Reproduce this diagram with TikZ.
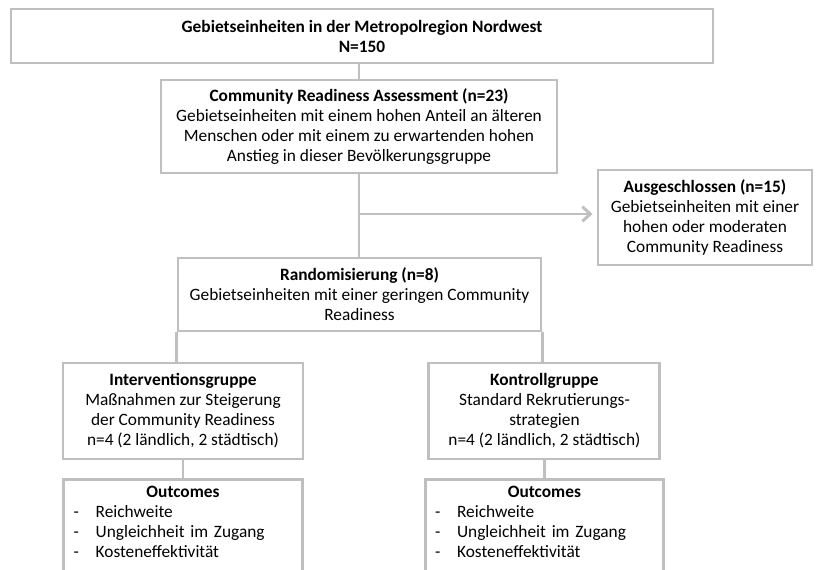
\documentclass[tikz,border=0pt]{standalone}
\usepackage{fontspec}
\setmainfont{Carlito}
\usepackage{tikz}
\usetikzlibrary{arrows.meta,positioning,calc}
\definecolor{rahmengrau}{RGB}{191,191,191}
\newcommand{\punkt}[1]{\makebox[\linewidth][l]{\makebox[20pt][l]{\hspace*{3.5pt}-}#1}}

\begin{document}
\begin{tikzpicture}[x=0.75pt,y=-0.75pt,font=\fontsize{13}{15}\selectfont,
  >={Straight Barb[length=6pt,width=11pt]},
  box/.style={draw=rahmengrau,line width=2.2pt,fill=white,align=center,inner sep=4pt},
  link/.style={draw=rahmengrau,line width=2.2pt}]
  \useasboundingbox (0,0) rectangle (818,570);
  \clip (0,0) rectangle (818,570);
  \node[box,minimum width=526.5pt,minimum height=40.5pt,font=\fontsize{13}{15}\selectfont\bfseries] (gesamt) at (362,36) {Gebietseinheiten in der Metropolregion Nordwest\\ N=150};
  \node[box,minimum width=297pt,minimum height=69.75pt] (cra) at (359,126.5) {\textbf{Community Readiness Assessment (n=23)}\\ Gebietseinheiten mit einem hohen Anteil an älteren\\ Menschen oder mit einem zu erwartenden hohen\\ Anstieg in dieser Bevölkerungsgruppe};
  \node[box,minimum width=160.5pt,minimum height=71.25pt] (aus) at (705,217.5) {\textbf{Ausgeschlossen (n=15)}\\ Gebietseinheiten mit einer\\ hohen oder moderaten\\ Community Readiness};
  \node[box,minimum width=272.25pt,minimum height=54.75pt] (rand) at (359.5,294.5) {\textbf{Randomisierung (n=8)}\\ Gebietseinheiten mit einer geringen Community\\ Readiness};
  \node[box,minimum width=180pt,minimum height=72pt] (interv) at (183,411) {\textbf{Interventionsgruppe}\\ Maßnahmen zur Steigerung\\ der Community Readiness\\ n=4 (2 ländlich, 2 städtisch)};
  \node[box,minimum width=173.25pt,minimum height=72pt,right=92.25pt of interv] (kontr) {\textbf{Kontrollgruppe}\\ Standard Rekrutierungs-\\ strategien\\ n=4 (2 ländlich, 2 städtisch)};
  \node[box,text width=171pt,align=left,inner ysep=5pt,below=13.5pt of interv] (outi) {\makebox[\linewidth]{\textbf{Outcomes}}\\ \punkt{Reichweite}\\ \punkt{Ungleichheit im Zugang}\\ \punkt{Kosteneffektivität\rule[-25pt]{0pt}{0pt}}};
  \node[box,text width=171pt,align=left,inner ysep=5pt,below=13.5pt of kontr] (outk) {\makebox[\linewidth]{\textbf{Outcomes}}\\ \punkt{Reichweite}\\ \punkt{Ungleichheit im Zugang}\\ \punkt{Kosteneffektivität\rule[-25pt]{0pt}{0pt}}};
  \coordinate (abzweig) at (359,214);
  \draw[link] (gesamt.south -| cra.north) -- (cra.north);
  \draw[link] (cra.south) -- (cra.south |- rand.north);
  \draw[link,->,shorten >=3pt] (abzweig) -- (abzweig -| aus.west);
  \draw[link] (rand.south west) -- (rand.south west |- interv.north);
  \draw[link] (rand.south east) -- (rand.south east |- kontr.north);
  \draw[link] (interv.south) -- (interv.south |- outi.north);
  \draw[link] (kontr.south) -- (kontr.south |- outk.north);
\end{tikzpicture}
\end{document}
